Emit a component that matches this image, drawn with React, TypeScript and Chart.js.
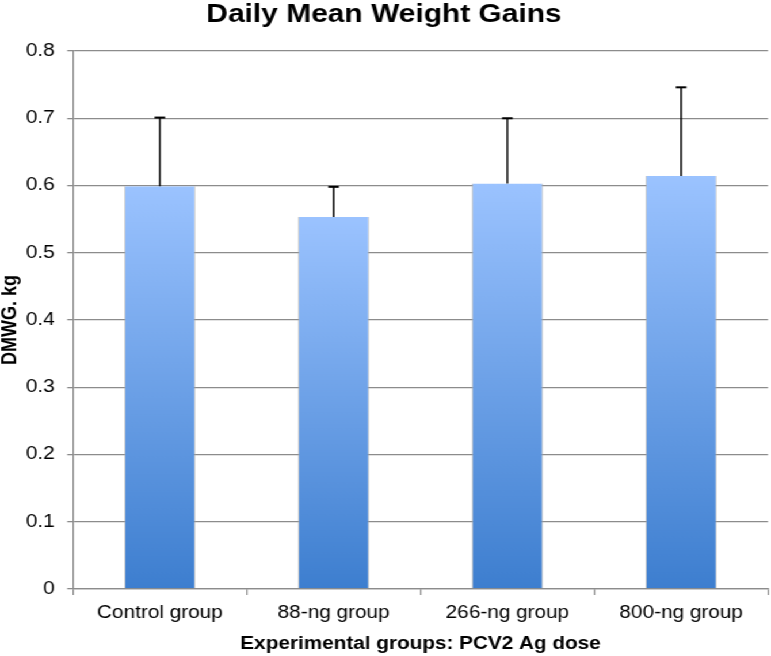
import React, { useEffect, useRef } from "react";
import { Chart, registerables } from "chart.js";

Chart.register(...registerables);

const categories = ["Control group", "88-ng group", "266-ng group", "800-ng group"];
const means = [0.599, 0.553, 0.603, 0.614];
const errors = [0.102, 0.045, 0.097, 0.132];
const yTicks = [0, 0.1, 0.2, 0.3, 0.4, 0.5, 0.6, 0.7, 0.8];

const chartTitle = "Daily Mean Weight Gains";
const xTitle = "Experimental groups: PCV2 Ag dose";
const yTitle = "DMWG. kg";

const INNER_W = 670;
const H = 656;
const STRETCH = 771 / INNER_W;

const errorBarPlugin = {
  id: "errorBars",
  afterDatasetsDraw(chart: any) {
    const ctx = chart.ctx;
    const meta = chart.getDatasetMeta(0);
    const ys = chart.scales.y;
    ctx.save();
    ctx.strokeStyle = "#000";
    meta.data.forEach((bar: any, i: number) => {
      const x = bar.x;
      const yTop = ys.getPixelForValue(means[i]);
      const yErr = ys.getPixelForValue(means[i] + errors[i]);
      ctx.lineWidth = 1.5;
      ctx.beginPath();
      ctx.moveTo(x, yTop);
      ctx.lineTo(x, yErr);
      ctx.stroke();
      ctx.lineWidth = 2;
      ctx.beginPath();
      ctx.moveTo(x - 4.6, yErr);
      ctx.lineTo(x + 4.6, yErr);
      ctx.stroke();
    });
    ctx.restore();
  },
};

export default function App() {
  const ref = useRef<HTMLCanvasElement | null>(null);
  useEffect(() => {
    if (!ref.current) return;
    const chart = new Chart(ref.current, {
      type: "bar",
      data: {
        labels: categories,
        datasets: [
          {
            data: means,
            backgroundColor: (c: any) => {
              const ch = c.chart;
              if (!ch.chartArea) return "#6a9fe8";
              const ys = ch.scales.y;
              const v = means[c.dataIndex] ?? 0;
              const top = ys.getPixelForValue(v);
              const bottom = ys.getPixelForValue(0);
              const g = ch.ctx.createLinearGradient(0, top, 0, bottom);
              g.addColorStop(0, "#9bc3ff");
              g.addColorStop(1, "#3d7ecf");
              return g;
            },
            borderColor: "rgba(170,170,170,0.6)",
            borderWidth: { left: 1, right: 1, top: 0, bottom: 0 },
            borderSkipped: false,
            barPercentage: 0.41,
            categoryPercentage: 1,
          },
        ],
      },
      options: {
        animation: false,
        responsive: true,
        maintainAspectRatio: false,
        layout: { padding: { left: 0, right: 2.6, top: 0, bottom: 0 } },
        plugins: {
          legend: { display: false },
          tooltip: { enabled: false },
          title: {
            display: true,
            text: chartTitle,
            color: "#000",
            font: { family: "'Liberation Sans', Arial, sans-serif", size: 26, weight: "bold", lineHeight: 1 },
            padding: { top: 2, bottom: 23 },
          },
        },
        scales: {
          x: {
            grid: {
              offset: true,
              drawOnChartArea: false,
              drawTicks: true,
              tickLength: 6,
              color: "#8c8c8c",
              lineWidth: 1.2,
            },
            border: { color: "#8c8c8c", width: 1.3 },
            ticks: {
              color: "#000",
              padding: 7,
              font: { family: "'Liberation Sans', Arial, sans-serif", size: 18 },
            },
            title: {
              display: true,
              text: xTitle,
              color: "#000",
              font: { family: "'Liberation Sans', Arial, sans-serif", size: 18, weight: "bold", lineHeight: 1 },
              padding: { top: 0, bottom: 3 },
            },
            afterFit: (s: any) => {
              s.height = 67;
            },
          },
          y: {
            min: 0,
            max: 0.8,
            afterBuildTicks: (s: any) => {
              s.ticks = yTicks.map((v) => ({ value: v }));
            },
            grid: {
              color: "#8c8c8c",
              lineWidth: 1.3,
              drawTicks: true,
              tickLength: 5,
            },
            border: { color: "#8c8c8c", width: 1.2 },
            ticks: {
              color: "#000",
              padding: 11,
              font: { family: "'Liberation Sans', Arial, sans-serif", size: 18 },
              callback: (v: any) => String(Number(v).toFixed(1)).replace(/^0\.0$/, "0"),
            },
            title: {
              display: true,
              text: yTitle,
              color: "#000",
              font: { family: "'Liberation Sans', Arial, sans-serif", size: 18, weight: "bold", lineHeight: 1 },
              padding: { top: 0, bottom: 0 },
            },
            afterFit: (s: any) => {
              s.width = 63.4;
            },
          },
        },
      },
      plugins: [errorBarPlugin],
    });
    return () => chart.destroy();
  }, []);

  return (
    <div
      style={{
        position: "absolute",
        left: 0,
        top: 0,
        width: INNER_W,
        height: H,
        transform: `scaleX(${STRETCH})`,
        transformOrigin: "0 0",
        background: "#fff",
      }}
    >
      <canvas ref={ref} />
    </div>
  );
}
